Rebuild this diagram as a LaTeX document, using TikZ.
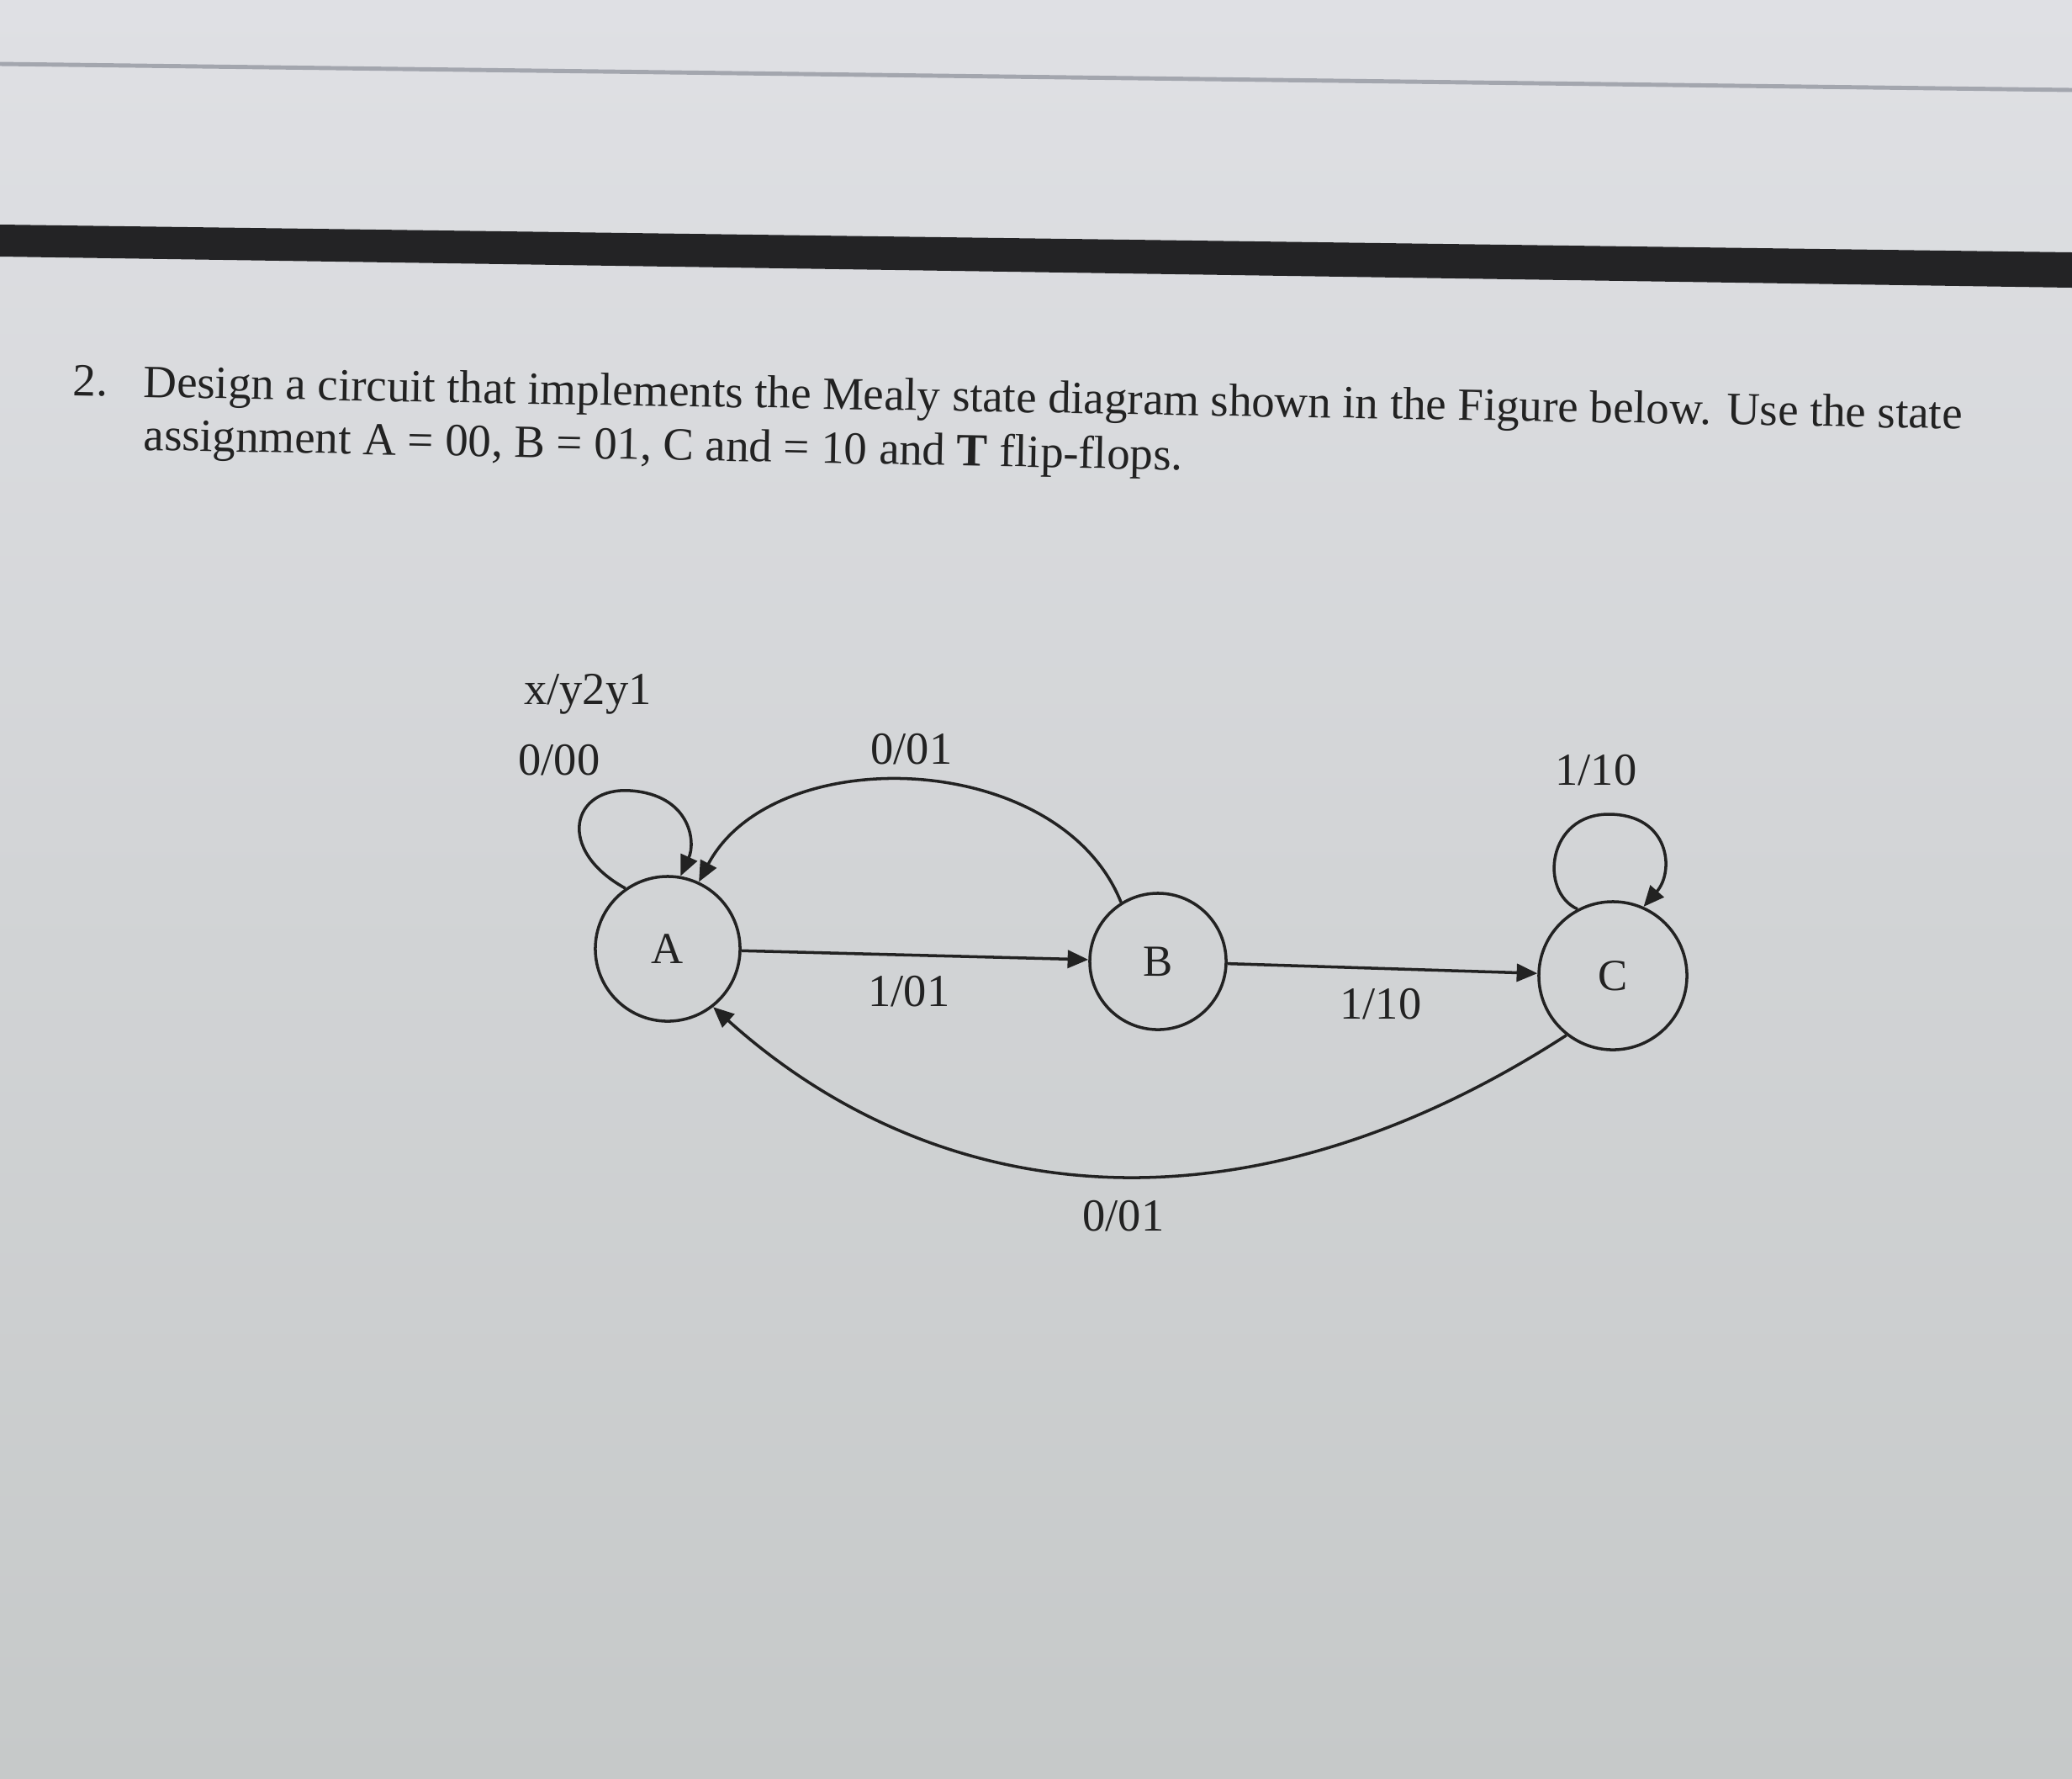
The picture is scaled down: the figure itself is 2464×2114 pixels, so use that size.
\documentclass[tikz,border=0pt]{standalone}
\usepackage{fontspec}
\setmainfont{Liberation Serif}
\usetikzlibrary{arrows.meta}
\definecolor{ink}{HTML}{222222}
\definecolor{bgtop}{HTML}{DFE0E4}
\definecolor{bgmid}{HTML}{D2D4D6}
\definecolor{bgbot}{HTML}{C6C9C9}
\definecolor{barc}{HTML}{232325}
\definecolor{thinc}{HTML}{A3A6AE}
\begin{document}
\begin{tikzpicture}[x=0.01cm,y=-0.01cm,
  state/.style={circle,draw=ink,line width=1pt,inner sep=0pt,text=ink,font=\fontsize{15}{18}\selectfont},
  lbl/.style={font=\fontsize{15.5}{18}\selectfont,text=ink,inner sep=0pt},
  edge/.style={draw=ink,line width=1pt,-{Triangle[length=7pt,width=6pt]}},
  body/.style={font=\fontsize{15.6}{17}\selectfont,text=ink,anchor=base west,inner sep=0pt}]
\useasboundingbox (0,0) rectangle (2464,2114);
\shade[top color=bgtop, bottom color=bgbot, middle color=bgmid] (0,0) rectangle (2464,2114);
% screen edges
\draw[thinc, line width=1.4pt] (0,76) -- (2464,107);
\fill[barc] (0,267) -- (2464,300) -- (2464,342) -- (0,305) -- cycle;
% question text
\node[body,rotate=-1] (num) at (86,470) {2.};
\node[body,rotate=-1] (line1) at (170,472) {Design a circuit that implements the Mealy state diagram shown in the Figure below. Use the state};
\node[body,rotate=-1.1] (line2) at (170,535) {assignment A = 00, B = 01, C and = 10 and \textbf{T} flip-flops.};
% states
\node[state,minimum size=1.72cm] (A) at (794,1128) {A};
\node[state,minimum size=1.62cm] (B) at (1377,1143) {B};
\node[state,minimum size=1.76cm] (C) at (1918,1160) {C};
% transitions
\draw[edge] (A) -- (B);
\draw[edge] (B) -- (C);
\draw[edge] (A.125) .. controls (660,1010) and (680,935) .. (750,940) .. controls (820,945) and (828,1000) .. (A.80);
\draw[edge] (B.122) .. controls (1260,890) and (920,880) .. (A.65);
\draw[edge] (C.232) .. controls (1479,1479) and (1116,1438) .. (A.308);
\draw[edge] (C.118) .. controls (1830,1060) and (1840,968) .. (1913,968) .. controls (1985,968) and (1992,1035) .. (C.66);
% labels
\node[lbl] (hdr) at (699,825) {x/y2y1};
\node[lbl] (lAA) at (665,904) {0/00};
\node[lbl] (lBA) at (1084,891) {0/01};
\node[lbl] (lCC) at (1898,916) {1/10};
\node[lbl] (lAB) at (1081,1179) {1/01};
\node[lbl] (lBC) at (1642,1194) {1/10};
\node[lbl] (lCA) at (1336,1446) {0/01};
\end{tikzpicture}
\end{document}
